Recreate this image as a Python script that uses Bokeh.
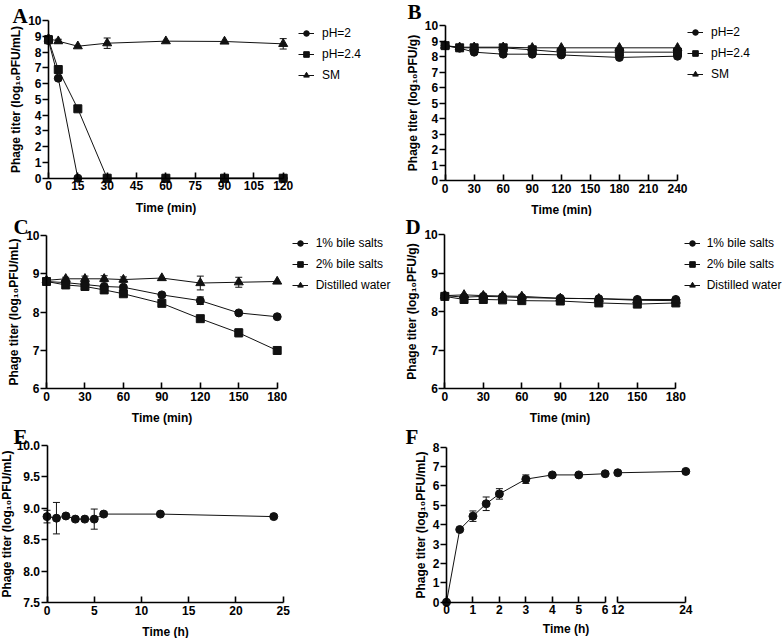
from bokeh.plotting import figure
from bokeh.models import (ColumnDataSource, Whisker, TeeHead, Legend, LegendItem,
                          Label, FixedTicker, PrintfTickFormatter, Range1d, LinearAxis)
from bokeh.layouts import column, row
from bokeh.embed import file_html
from bokeh.resources import INLINE

# ---------------- data ----------------
# Panel A: acid tolerance (liquid)
a_time = [0, 5, 15, 30, 60, 90, 120]
a_ph2 = [8.73, 6.34, 0, 0, 0, 0, 0]
a_ph24 = [8.78, 6.89, 4.40, 0, 0, 0, 0]
a_sm = [8.85, 8.69, 8.37, 8.56, 8.69, 8.67, 8.52]
a_sm_err = [0.2, 0.12, 0, 0.33, 0, 0, 0.33]
a_xticks = [0, 15, 30, 45, 60, 75, 90, 105, 120]

# Panel B: acid tolerance (powder)
b_time = [0, 15, 30, 60, 90, 120, 180, 240]
b_ph2 = [8.70, 8.54, 8.28, 8.15, 8.15, 8.10, 7.94, 8.02]
b_ph24 = [8.70, 8.56, 8.56, 8.56, 8.43, 8.28, 8.28, 8.28]
b_sm = [8.70, 8.60, 8.60, 8.60, 8.56, 8.56, 8.56, 8.56]
b_xticks = [0, 30, 60, 90, 120, 150, 180, 210, 240]
ab_yticks = [0, 1, 2, 3, 4, 5, 6, 7, 8, 9, 10]

# Panel C: bile salts (liquid)
c_time = [0, 15, 30, 45, 60, 90, 120, 150, 180]
c_bile1 = [8.80, 8.77, 8.72, 8.67, 8.65, 8.45, 8.30, 7.98, 7.88]
c_bile1_err = [0, 0, 0, 0, 0, 0, 0.10, 0, 0]
c_bile2 = [8.80, 8.71, 8.67, 8.58, 8.48, 8.23, 7.83, 7.46, 7.00]
c_bile2_err = [0, 0, 0, 0, 0, 0, 0, 0.10, 0]
c_water = [8.83, 8.87, 8.87, 8.87, 8.85, 8.89, 8.76, 8.78, 8.80]
c_water_err = [0, 0.04, 0.07, 0.08, 0.07, 0, 0.18, 0.13, 0]
cd_xticks = [0, 30, 60, 90, 120, 150, 180]
cd_yticks = [6, 7, 8, 9, 10]

# Panel D: bile salts (powder)
d_time = [0, 15, 30, 45, 60, 90, 120, 150, 180]
d_bile1 = [8.42, 8.38, 8.40, 8.39, 8.37, 8.35, 8.34, 8.32, 8.32]
d_bile2 = [8.40, 8.32, 8.32, 8.31, 8.29, 8.28, 8.23, 8.20, 8.23]
d_water = [8.42, 8.44, 8.42, 8.41, 8.40, 8.35, 8.34, 8.30, 8.29]

# Panel E
e_time = [0, 1, 2, 3, 4, 5, 6, 12, 24]
e_titer = [8.87, 8.845, 8.88, 8.83, 8.83, 8.83, 8.91, 8.91, 8.87]
e_err = [0.10, 0.25, 0, 0.03, 0, 0.16, 0.04, 0, 0]
e_xticks = [0, 5, 10, 15, 20, 25]
e_yticks = [7.5, 8.0, 8.5, 9.0, 9.5, 10.0]

# Panel F (broken x axis 0-6 | 12-24)
f_time = [0, 0.5, 1, 1.5, 2, 3, 4, 5, 6, 12, 24]
f_titer = [0, 3.75, 4.44, 5.08, 5.59, 6.35, 6.57, 6.57, 6.63, 6.68, 6.75]
f_err = [0, 0, 0.27, 0.35, 0.27, 0.22, 0, 0, 0, 0, 0]
f_xticks_early = [0, 1, 2, 3, 4, 5, 6]
f_xticks_late = [12, 24]
f_yticks = [0, 1, 2, 3, 4, 5, 6, 7, 8]

FONT = "Liberation Sans"
INK = "#111111"


def span(v0, v1, p0, p1, size):
    """Range whose values v0, v1 fall at pixels p0, p1 of a frame of the given size."""
    s = (v1 - v0) / (p1 - p0)
    return Range1d(v0 - p0 * s, v0 + (size - p0) * s)


def style_axis(ax, is_x, label_standoff=2):
    ax.axis_line_color = "black"
    ax.axis_line_width = 1.6
    ax.major_tick_line_color = "black"
    ax.major_tick_line_width = 1.6
    ax.minor_tick_line_color = None
    ax.major_label_text_font = FONT
    ax.major_label_text_font_style = "bold"
    ax.major_label_text_font_size = "12px"
    ax.major_label_text_color = "black"
    ax.axis_label_text_font = FONT
    ax.axis_label_text_font_style = "bold"
    ax.axis_label_text_font_size = "12px"
    ax.axis_label_text_color = "black"
    if is_x:
        ax.major_tick_in = 6
        ax.major_tick_out = 0
        ax.major_label_standoff = 3
        ax.axis_label_standoff = 7
    else:
        ax.major_tick_in = 0
        ax.major_tick_out = 6
        ax.major_label_standoff = 1
        ax.axis_label_standoff = label_standoff


def panel(W, H, xlim, ylim, xpix, ypix, xticks, yticks, xlabel, ylabel, yfmt=None,
          ylabel_standoff=2):
    # frame fills the whole canvas; axes are pinned at the data origin
    xr = span(xlim[0], xlim[1], xpix[0], xpix[1], W)
    yr = span(ylim[0], ylim[1], H - ypix[0], H - ypix[1], H)
    p = figure(width=W, height=H, x_range=xr, y_range=yr, title=None,
               output_backend="svg", toolbar_location=None,
               x_axis_location=None, y_axis_location=None,
               min_border_left=0, min_border_right=0, min_border_top=0, min_border_bottom=0)
    p.grid.visible = False
    p.outline_line_color = None
    xa = LinearAxis(fixed_location=ylim[0], bounds=xlim, ticker=FixedTicker(ticks=xticks),
                    axis_label=xlabel)
    style_axis(xa, True)
    p.add_layout(xa, "below")
    ya = LinearAxis(fixed_location=xlim[0], bounds=ylim, ticker=FixedTicker(ticks=yticks),
                    axis_label=ylabel)
    if yfmt:
        ya.formatter = PrintfTickFormatter(format=yfmt)
    style_axis(ya, False, ylabel_standoff)
    p.add_layout(ya, "left")
    return p


def series(p, x, y, marker, size, err=None, range_name="default"):
    src = ColumnDataSource(dict(x=x, y=y))
    ln = p.line("x", "y", source=src, line_color=INK, line_width=1, x_range_name=range_name)
    if err is not None:
        idx = [i for i, e in enumerate(err) if e > 0]
        if idx:
            esrc = ColumnDataSource(dict(
                x=[x[i] for i in idx],
                lower=[y[i] - err[i] for i in idx],
                upper=[y[i] + err[i] for i in idx]))
            w = Whisker(source=esrc, base="x", lower="lower", upper="upper",
                        line_color=INK, line_width=1, x_range_name=range_name,
                        upper_head=TeeHead(size=7, line_color=INK, line_width=1),
                        lower_head=TeeHead(size=7, line_color=INK, line_width=1))
            p.add_layout(w)
    sc = p.scatter("x", "y", source=src, marker=marker, size=size,
                   fill_color=INK, line_color=INK, x_range_name=range_name)
    return [ln, sc]


def add_legend(p, labels, rlist, loc, glyph_w=16, standoff=8):
    leg = Legend(items=[LegendItem(label=lab, renderers=r) for lab, r in zip(labels, rlist)],
                 location=loc, orientation="vertical",
                 border_line_color=None, background_fill_alpha=0,
                 padding=0, margin=0, spacing=7,
                 glyph_width=glyph_w, glyph_height=14, label_height=14,
                 label_standoff=standoff,
                 label_text_font=FONT, label_text_font_size="12px",
                 label_text_color="black")
    p.add_layout(leg)


def letter(p, txt, x, y):
    p.add_layout(Label(x=x, y=y, x_units="screen", y_units="screen", text=txt,
                       text_font="Liberation Serif", text_font_style="bold",
                       text_font_size="21px", text_color="black",
                       text_baseline="alphabetic", text_align="left"))


ylab_ml = "Phage titer (log\u2081\u2080PFU/mL)"
ylab_g = "Phage titer (log\u2081\u2080PFU/g)"

# ---------- A ----------
pA = panel(392, 216, (0, 120), (0, 10), (48, 282.7), (177.7, 20), a_xticks, ab_yticks,
           "Time (min)", ylab_ml)
rA1 = series(pA, a_time, a_ph2, "circle", 8)
rA2 = series(pA, a_time, a_ph24, "square", 8)
rA3 = series(pA, a_time, a_sm, "triangle", 9, a_sm_err)
add_legend(pA, ["pH=2", "pH=2.4", "SM"], [rA1, rA2, rA3], (298, 133.7))
letter(pA, "A", 12, 200.5)

# ---------- B ----------
pB = panel(392, 216, (0, 240), (0, 10), (52.6, 285), (180, 25), b_xticks, ab_yticks,
           "Time (min)", ylab_g)
rB1 = series(pB, b_time, b_ph2, "circle", 8)
rB2 = series(pB, b_time, b_ph24, "square", 8)
rB3 = series(pB, b_time, b_sm, "triangle", 9)
add_legend(pB, ["pH=2", "pH=2.4", "SM"], [rB1, rB2, rB3], (295, 135.3))
letter(pB, "B", 15, 205)

# ---------- C ----------
pC = panel(392, 210, (0, 180), (6, 10), (46, 276.7), (172.3, 19), cd_xticks, cd_yticks,
           "Time (min)", ylab_ml)
rC1 = series(pC, c_time, c_bile1, "circle", 8, c_bile1_err)
rC2 = series(pC, c_time, c_bile2, "square", 8, c_bile2_err)
rC3 = series(pC, c_time, c_water, "triangle", 9, c_water_err)
add_legend(pC, ["1% bile salts", "2% bile salts", "Distilled water"], [rC1, rC2, rC3],
           (291.7, 134.3))
letter(pC, "C", 13, 199.5)

# ---------- D ----------
pD = panel(392, 210, (0, 180), (6, 10), (52.3, 283.3), (172.3, 18.3), cd_xticks, cd_yticks,
           "Time (min)", ylab_g)
rD1 = series(pD, d_time, d_bile1, "circle", 8)
rD2 = series(pD, d_time, d_bile2, "square", 8)
rD3 = series(pD, d_time, d_water, "triangle", 9)
add_legend(pD, ["1% bile salts", "2% bile salts", "Distilled water"], [rD1, rD2, rD3],
           (291.7, 134.3), glyph_w=16, standoff=7)
letter(pD, "D", 13, 199.5)

# ---------- E ----------
pE = panel(392, 212, (0, 25), (7.5, 10), (46.5, 282.7), (176.3, 19), e_xticks, e_yticks,
           "Time (h)", ylab_ml, yfmt="%.1f", ylabel_standoff=0)
series(pE, e_time, e_titer, "circle", 8, e_err)
letter(pE, "E", 13, 201.5)

# ---------- F (broken x axis) ----------
pF = panel(392, 212, (0, 6), (0, 8), (54, 212.7), (175.7, 20.7), f_xticks_early, f_yticks,
           None, ylab_ml)
pF.extra_x_ranges = {"late": span(12, 24, 225.3, 293.3, 392)}
late_axis = LinearAxis(x_range_name="late", fixed_location=0, bounds=(12, 24),
                       ticker=FixedTicker(ticks=f_xticks_late))
style_axis(late_axis, True)
pF.add_layout(late_axis, "below")
early = [i for i, t in enumerate(f_time) if t <= 6]
late = [i for i, t in enumerate(f_time) if t >= 12]
series(pF, [f_time[i] for i in early], [f_titer[i] for i in early], "circle", 8,
       [f_err[i] for i in early])
series(pF, [f_time[i] for i in late], [f_titer[i] for i in late], "circle", 8,
       [f_err[i] for i in late], range_name="late")
pF.add_layout(Label(x=173.5, y=10, x_units="screen", y_units="screen", text="Time (h)",
                    text_font=FONT, text_font_style="bold", text_font_size="12px",
                    text_color="black", text_align="center", text_baseline="middle"))
letter(pF, "F", 13, 201.5)

layout = column(row(pA, pB), row(pC, pD), row(pE, pF))
open("out.html", "w").write(file_html(layout, INLINE))
